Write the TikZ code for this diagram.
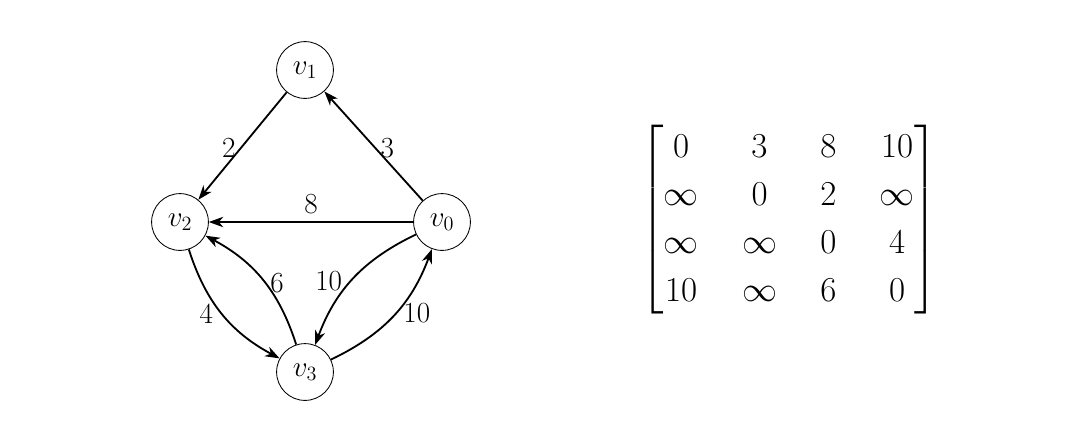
\documentclass[tikz,border=0pt]{standalone}
\usepackage{amsmath}
\usetikzlibrary{arrows.meta,positioning}

\begin{document}
\begin{tikzpicture}[
  >=Stealth,
  vertex/.style={draw=black, circle, line width=0.6pt, minimum size=1.42cm, inner sep=0pt, font=\huge},
  edge/.style={-{Stealth[length=3.6mm, width=2.6mm, inset=1.1mm]}, draw=black, line width=1.3pt},
  lbl/.style={font=\huge, inner sep=3pt},
  adjmat/.style={inner sep=0pt, font=\fontsize{29}{34}\selectfont}
]
\useasboundingbox (0,0) rectangle (27,-11.1);

\node[vertex] (v1) at (7.625,-1.75) {$v_1$};
\node[vertex] (v2) at (4.5,-5.55) {$v_2$};
\node[vertex] (v0) at (11.05,-5.55) {$v_0$};
\node[vertex] (v3) at (7.625,-9.3) {$v_3$};

\draw[edge] (v1) -- node[lbl, left, pos=0.52] {2} (v2);
\draw[edge] (v0) -- node[lbl, right, pos=0.48] {3} (v1);
\draw[edge] (v0) -- node[lbl, above, yshift=2pt] {8} (v2);
\draw[edge] (v2) to[bend right=22] node[lbl, left, pos=0.5, xshift=-3pt] {4} (v3);
\draw[edge] (v3) to[bend right=22] node[lbl, right, pos=0.47] {6} (v2);
\draw[edge] (v0) to[bend right=22] node[lbl, left, pos=0.52, xshift=-3pt] {10} (v3);
\draw[edge] (v3) to[bend right=22] node[lbl, right, pos=0.52, xshift=2pt] {10} (v0);

% adjacency matrix
\node[adjmat] (adj) at (19.73,-5.5) {%
  \setlength{\arraycolsep}{15.4pt}%
  $\begin{bmatrix}
  0 & 3 & 8 & 10 \\
  \infty & 0 & 2 & \infty \\
  \infty & \infty & 0 & 4 \\
  10 & \infty & 6 & 0
  \end{bmatrix}$};

\end{tikzpicture}
\end{document}
